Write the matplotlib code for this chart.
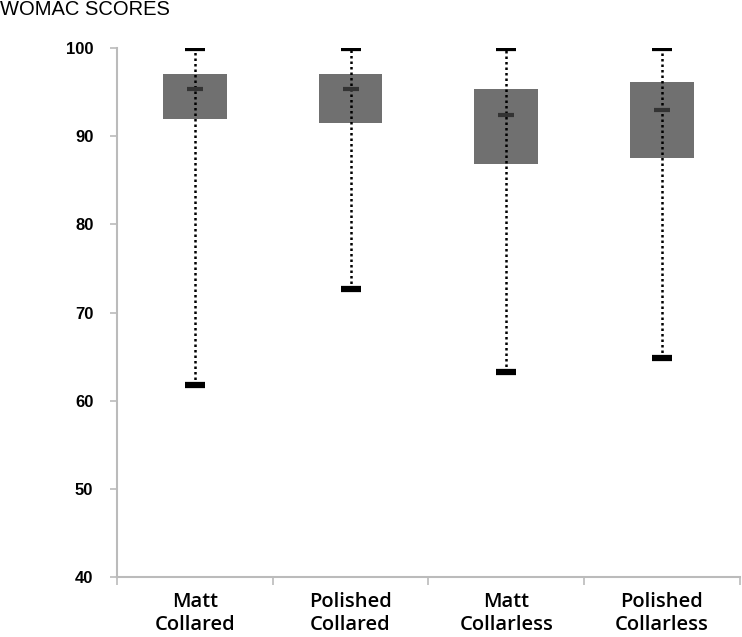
import matplotlib.pyplot as plt

# groupes et valeurs
groupes = ["Matt\nCollared", "Polished\nCollared", "Matt\nCollarless", "Polished\nCollarless"]
q1 = [91.9, 91.5, 86.8, 87.5]
q3 = [97.0, 97.0, 95.35, 96.1]
moyennes = [95.3, 95.3, 92.4, 93.0]
minimums = [61.8, 72.7, 63.3, 64.8]
maximums = [100.0, 100.0, 100.0, 100.0]

fig = plt.figure(figsize=(7.42, 6.37), dpi=100)
ax = fig.add_axes([0.1577, 0.0942, 0.8393, 0.8304])

pos = list(range(1, len(groupes) + 1))
hauteurs = [h - b for h, b in zip(q3, q1)]

# boites (q1 -> q3)
ax.bar(pos, hauteurs, bottom=q1, width=0.41, color="#707070", zorder=2)

# moustaches en pointillés
ax.vlines(pos, minimums, maximums, colors="black", linestyles=(0, (1, 1.2)),
          linewidth=1.8, zorder=3)

# extrémités (min / max)
ax.plot(pos, maximums, ls="none", marker="_", markersize=14, mew=4.5,
        color="black", zorder=4)
ax.plot(pos, minimums, ls="none", marker="_", markersize=14, mew=4.5,
        color="black", zorder=4)

# moyennes
ax.plot(pos, moyennes, ls="none", marker="_", markersize=12, mew=3,
        color="#333333", zorder=5)

ax.set_xlim(0.5, len(groupes) + 0.5)
ax.set_ylim(40, 100)
ax.set_yticks(range(40, 101, 10))
ax.set_yticklabels([str(v) for v in range(40, 101, 10)],
                   fontsize=12, fontweight="bold", family="Liberation Sans")

ax.set_xticks(pos)
ax.set_xticklabels(groupes, fontsize=14.5, family="Open Sans", fontweight="semibold",
                   linespacing=1.2)
ax.tick_params(axis="x", which="major", length=0, pad=11)
ax.set_xticks([p + 0.5 for p in range(0, len(groupes) + 1)], minor=True)
ax.tick_params(axis="x", which="minor", length=6, color="#bbbbbb", width=1.2)
ax.tick_params(axis="y", length=5, color="#bbbbbb", width=1.2, pad=12)

for side in ["top", "right"]:
    ax.spines[side].set_visible(False)
for side in ["left", "bottom"]:
    ax.spines[side].set_color("#bbbbbb")
    ax.spines[side].set_linewidth(1.5)

fig.text(0.0, 0.985, "WOMAC SCORES", fontsize=14.5, family="Liberation Sans",
         ha="left", va="center")

fig.savefig("out.png", dpi=100)
